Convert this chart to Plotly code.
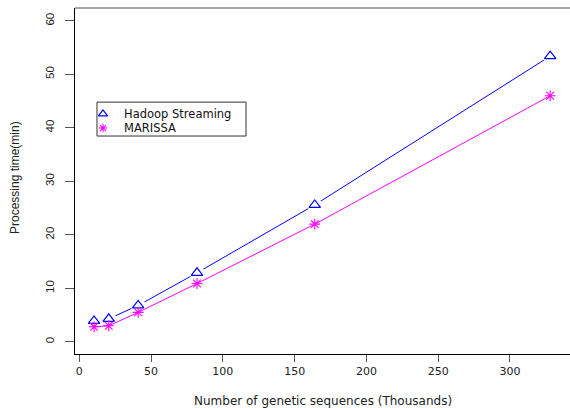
import plotly.graph_objects as go

sequences_k = [10.25, 20.5, 41, 82, 164, 328]
hadoop_streaming = [3.9, 4.3, 6.8, 12.9, 25.6, 53.4]
marissa = [2.8, 3.0, 5.5, 10.9, 22.0, 46.0]

series_names = ["Hadoop Streaming", "MARISSA"]
x_ticks = [0, 50, 100, 150, 200, 250, 300]
y_ticks = [0, 10, 20, 30, 40, 50, 60]

BLUE = "#0000FF"
MAGENTA = "#FF00FF"
FONT = "Liberation Sans"
WFONT = "DejaVu Sans"

fig = go.Figure()

# Hadoop line with gaps around points (R type="b")
fig.add_trace(go.Scatter(x=sequences_k, y=hadoop_streaming, mode="lines",
                         line=dict(color=BLUE, width=1), showlegend=False, hoverinfo="skip"))
fig.add_trace(go.Scatter(x=sequences_k, y=hadoop_streaming, mode="markers",
                         marker=dict(symbol="circle", size=15, color="white", line=dict(width=0)),
                         showlegend=False, hoverinfo="skip"))
# MARISSA line
fig.add_trace(go.Scatter(x=sequences_k, y=marissa, mode="lines",
                         line=dict(color=MAGENTA, width=1), showlegend=False, hoverinfo="skip"))
# markers
fig.add_trace(go.Scatter(x=sequences_k, y=hadoop_streaming, mode="markers", name=series_names[0],
                         showlegend=False,
                         marker=dict(symbol="triangle-up-open", size=10, color=BLUE,
                                     line=dict(color=BLUE, width=1.2))))
fig.add_trace(go.Scatter(x=sequences_k, y=marissa, mode="markers", name=series_names[1],
                         showlegend=False,
                         marker=dict(symbol="asterisk-open", size=9, color=MAGENTA,
                                     line=dict(color=MAGENTA, width=1.1))))

# Legend drawn in an overlay paper-like axis (R-style legend box)
leg_x_marker = 0.0566
leg_x_text = 0.095
leg_rows = [0.694, 0.653]
fig.add_trace(go.Scatter(x=[leg_x_marker], y=[leg_rows[0]], xaxis="x2", yaxis="y2", mode="markers",
                         showlegend=False, hoverinfo="skip",
                         marker=dict(symbol="triangle-up-open", size=8, color=BLUE,
                                     line=dict(color=BLUE, width=1.2))))
fig.add_trace(go.Scatter(x=[leg_x_marker], y=[leg_rows[1]], xaxis="x2", yaxis="y2", mode="markers",
                         showlegend=False, hoverinfo="skip",
                         marker=dict(symbol="asterisk-open", size=7, color=MAGENTA,
                                     line=dict(color=MAGENTA, width=1.1))))

annotations = [
    dict(text="Number of genetic sequences (Thousands)", xref="paper", yref="paper",
         x=0.5, y=-0.136, xanchor="center", yanchor="middle", showarrow=False,
         font=dict(family=WFONT, size=12, color="#222222")),
    dict(text="Processing time(min)", xref="paper", yref="paper",
         x=-0.121, y=0.509, xanchor="center", yanchor="middle", showarrow=False,
         textangle=-90, font=dict(family=FONT, size=12, color="#222222")),
]
for name, yy in zip(series_names, leg_rows):
    annotations.append(dict(text=name, xref="paper", yref="paper", x=leg_x_text, y=yy,
                            xanchor="left", yanchor="middle", showarrow=False,
                            font=dict(family=WFONT, size=11.5, color="#111111")))

fig.update_layout(
    width=570, height=408,
    margin=dict(l=75, r=0, t=8, b=54),
    paper_bgcolor="white", plot_bgcolor="white",
    font=dict(family=WFONT, size=11, color="#222222"),
    showlegend=False,
    xaxis=dict(range=[-3.0, 341.8], tickvals=x_ticks, ticks="outside", ticklen=7,
               tickcolor="#555555", tickwidth=1, showgrid=False, zeroline=False,
               showline=True, linecolor="black", linewidth=1.3,
               tickfont=dict(family=WFONT, size=11, color="#222222")),
    yaxis=dict(range=[-2.28, 62.4], tickvals=y_ticks, ticks="outside", ticklen=9,
               tickcolor="#555555", tickwidth=1, showgrid=False, zeroline=False,
               showline=True, linecolor="black", linewidth=1.3, tickangle=-90,
               ticklabelstandoff=6,
               tickfont=dict(family=FONT, size=11.5, color="#222222")),
    xaxis2=dict(overlaying="x", range=[0, 1], visible=False, fixedrange=True),
    yaxis2=dict(overlaying="y", range=[0, 1], visible=False, fixedrange=True),
    shapes=[
        dict(type="line", xref="paper", yref="paper", x0=0, x1=1, y0=1, y1=1,
             line=dict(color="#888888", width=1.5)),
        dict(type="rect", xref="paper", yref="paper", x0=0.0444, x1=0.3455, y0=0.630, y1=0.728,
             line=dict(color="#333333", width=1), fillcolor="rgba(0,0,0,0)", layer="above"),
    ],
    annotations=annotations,
)

fig.write_html("out.html")
